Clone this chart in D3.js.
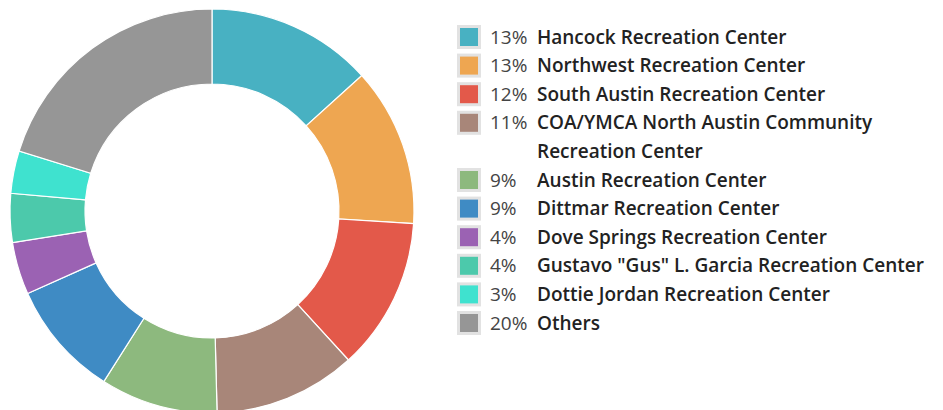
<!DOCTYPE html>
<html>
<head>
<meta charset="utf-8">
<script src="https://cdn.jsdelivr.net/npm/d3@7"></script>
<style>
  html, body { margin: 0; padding: 0; background: #fff; }
  svg { display: block; }
</style>
</head>
<body>
<svg id="chart" width="943" height="410"></svg>
<script>
const categories = [
  "Hancock Recreation Center",
  "Northwest Recreation Center",
  "South Austin Recreation Center",
  "COA/YMCA North Austin Community Recreation Center",
  "Austin Recreation Center",
  "Dittmar Recreation Center",
  "Dove Springs Recreation Center",
  "Gustavo \"Gus\" L. Garcia Recreation Center",
  "Dottie Jordan Recreation Center",
  "Others"
];
const values = [13.3, 12.7, 12.2, 11.4, 9.4, 9.3, 4.2, 3.9, 3.4, 20.2];
const colors = ["#48b1c2", "#eea651", "#e3594a", "#a88679", "#8db97e", "#3f8bc4", "#9b62b3", "#4cc9ab", "#3fe2cf", "#969696"];
// legend label line breaks
const legendLines = [
  ["Hancock Recreation Center"],
  ["Northwest Recreation Center"],
  ["South Austin Recreation Center"],
  ["COA/YMCA North Austin Community", "Recreation Center"],
  ["Austin Recreation Center"],
  ["Dittmar Recreation Center"],
  ["Dove Springs Recreation Center"],
  ["Gustavo \"Gus\" L. Garcia Recreation Center"],
  ["Dottie Jordan Recreation Center"],
  ["Others"]
];

const svg = d3.select("#chart");
const cx = 212, cy = 211, rOuter = 202, rInner = 127;

const data = categories.map((c, i) => ({ name: c, value: values[i], color: colors[i], lines: legendLines[i] }));
const total = d3.sum(values);
const pie = d3.pie().value(d => d.value).sort(null);
const arc = d3.arc().innerRadius(rInner).outerRadius(rOuter);

const g = svg.append("g").attr("transform", `translate(${cx},${cy})`);
g.selectAll("path").data(pie(data)).join("path")
  .attr("d", arc)
  .attr("fill", d => d.data.color)
  .attr("stroke", "#fff")
  .attr("stroke-width", 1.2);

// legend
const fmt = d3.format(".0%");
const lx = 457, y0 = 37, rowH = 28.6;
const leg = svg.append("g").style("font-family", "'Open Sans', sans-serif").style("font-size", "19px");
let row = 0;
data.forEach((d, i) => {
  const y = y0 + row * rowH;
  leg.append("rect").attr("x", lx).attr("y", y - 12).attr("width", 24).attr("height", 24)
    .attr("fill", "#e2e2e2");
  leg.append("rect").attr("x", lx + 3).attr("y", y - 9).attr("width", 18).attr("height", 18)
    .attr("fill", d.color);
  leg.append("text").attr("x", 490).attr("y", y).attr("dy", "0.35em")
    .attr("fill", "#444").text(fmt(d.value / total));
  d.lines.forEach((ln, j) => {
    leg.append("text").attr("x", 537).attr("y", y + j * rowH).attr("dy", "0.35em")
      .attr("fill", "#222").attr("font-weight", 600).text(ln);
  });
  row += d.lines.length;
});
</script>
</body>
</html>
